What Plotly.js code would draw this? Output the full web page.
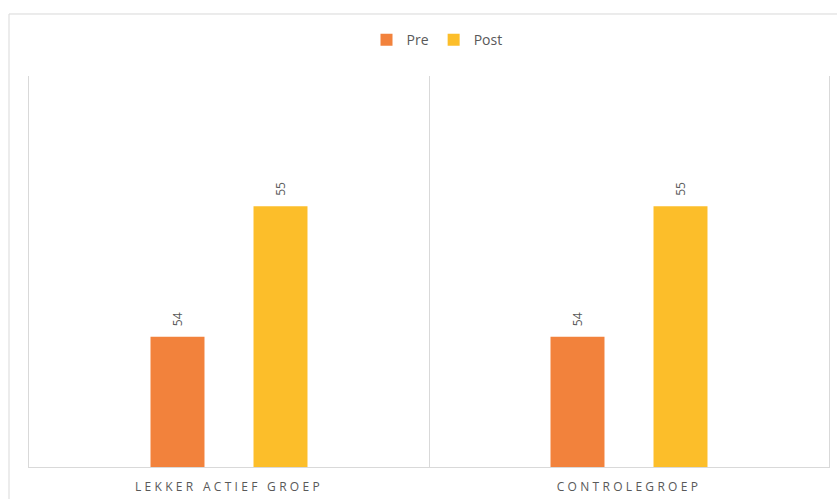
<!DOCTYPE html>
<html>
<head>
<meta charset="utf-8">
<script src="https://cdn.plot.ly/plotly-3.0.1.min.js"></script>
<style>
  html, body { margin: 0; padding: 0; background: #fff; }
  #chart { width: 837px; height: 499px; }
  .xtick text { letter-spacing: 3.3px; }
</style>
</head>
<body>
<div id="chart"></div>
<script>
const categories = ["LEKKER ACTIEF GROEP", "CONTROLEGROEP"];
const preValues = [54, 54];
const postValues = [55, 55];
const seriesNames = ["Pre", "Post"];
const seriesColors = ["#F2823C", "#FCBE2A"];

const fontFamily = "Open Sans, Noto Sans, sans-serif";
const labelFont = { family: fontFamily, size: 12, color: "#595959" };

function barTrace(name, values, color) {
  return {
    type: "bar",
    name: name,
    x: categories,
    y: values,
    marker: { color: color },
    hoverinfo: "none"
  };
}

const data = [
  barTrace(seriesNames[0], preValues, seriesColors[0]),
  barTrace(seriesNames[1], postValues, seriesColors[1])
];

// data labels as annotations placed through the axis scales
const bargap = 0.485;
const slot = (1 - bargap) / 2;
const annotations = [];
[preValues, postValues].forEach((vals, s) => {
  vals.forEach((v, i) => {
    annotations.push({
      xref: "x", yref: "y",
      x: i + (s === 0 ? -slot / 2 : slot / 2),
      y: v,
      text: String(v),
      textangle: -90,
      showarrow: false,
      xanchor: "center",
      yanchor: "bottom",
      yshift: 8,
      font: labelFont
    });
  });
});

const layout = {
  width: 837,
  height: 499,
  margin: { l: 29, r: 8, t: 76, b: 32, pad: 0 },
  paper_bgcolor: "#ffffff",
  plot_bgcolor: "#ffffff",
  barmode: "group",
  bargap: bargap,
  bargroupgap: 0.476,
  showlegend: true,
  legend: {
    orientation: "h",
    x: 0.51, xanchor: "center",
    y: 1.092, yanchor: "middle",
    font: { family: fontFamily, size: 14, color: "#595959" },
    itemwidth: 30,
    tracegroupgap: 0,
    traceorder: "normal"
  },
  xaxis: {
    type: "category",
    tickson: "boundaries",
    showgrid: true,
    gridcolor: "#d9d9d9",
    gridwidth: 1,
    showline: true,
    linecolor: "#d9d9d9",
    linewidth: 1,
    ticks: "",
    ticklabelstandoff: 9,
    tickfont: { family: fontFamily, size: 12, color: "#595959" },
    range: [-0.5, 1.5],
    fixedrange: true
  },
  yaxis: {
    range: [53, 56],
    showgrid: false,
    zeroline: false,
    showticklabels: false,
    ticks: "",
    showline: true,
    mirror: true,
    linecolor: "#d9d9d9",
    linewidth: 1,
    fixedrange: true
  },
  annotations: annotations,
  shapes: [{
    type: "rect",
    xref: "paper", yref: "paper",
    x0: -0.025, x1: 1.05,
    y0: -0.2, y1: 1.1586,
    line: { color: "#d9d9d9", width: 1 },
    fillcolor: "rgba(0,0,0,0)",
    layer: "below"
  }]
};

Plotly.newPlot("chart", data, layout, { displayModeBar: false, staticPlot: true });
</script>
</body>
</html>
